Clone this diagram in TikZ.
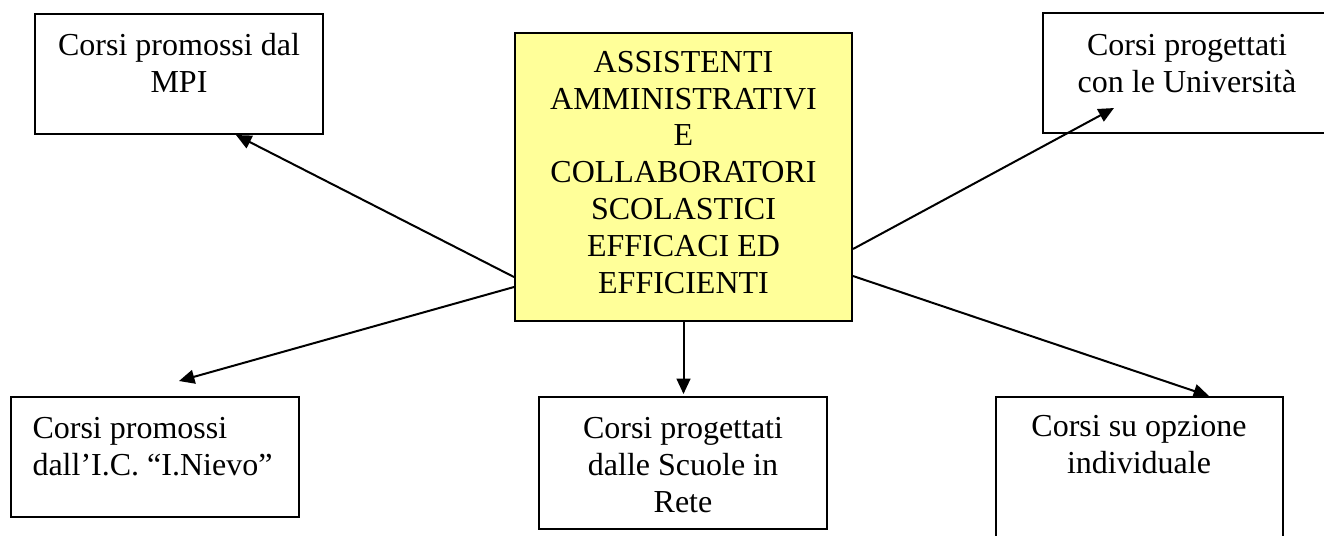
\documentclass[tikz,border=0pt]{standalone}
\usepackage{fontspec}
\setmainfont{Liberation Serif}
\usetikzlibrary{arrows.meta,calc,fit}
\definecolor{paleyellow}{RGB}{255,255,153}
\tikzset{
  box/.style={draw=black, line width=0.75pt, inner sep=0pt},
  txt/.style={inner sep=0pt, align=center, font=\fontsize{12}{13.8}\selectfont},
  arr/.style={line width=0.75pt, -{Triangle[length=5.8pt,width=5.2pt]}}
}
\begin{document}
\begin{tikzpicture}[x=0.375pt,y=-0.375pt]
  \useasboundingbox (0,0) rectangle (1324,535);
  \clip (0,0) rectangle (1324,535);

  % central box (text placed by the baseline of its last line)
  \node[box, fill=paleyellow, fit={(515,33) (852,321)}] (ctr) {};
  \node[txt, anchor=base] (ctrt) at (683.5,293)
    {ASSISTENTI\\AMMINISTRATIVI\\E\\COLLABORATORI\\SCOLASTICI\\EFFICACI ED\\EFFICIENTI};

  % surrounding boxes
  \node[box, fit={(35,14) (323,134)}] (mpi) {};
  \node[txt, anchor=base] (mpit) at (179,92) {Corsi promossi dal\\MPI};

  \node[box, fit={(1043,13) (1331,133)}] (uni) {};
  \node[txt, anchor=base] (unit) at (1187,92) {Corsi progettati\\con le Università};

  \node[box, fit={(11,397) (299,517)}] (ic) {};
  \node[txt, align=left, anchor=base west] (ict) at (32,475) {Corsi promossi\\dall’I.C. “I.Nievo”};

  \node[box, fit={(539,397) (827,529)}] (rete) {};
  \node[txt, anchor=base] (retet) at (683,512) {Corsi progettati\\dalle Scuole in\\Rete};

  \node[box, fit={(996,397) (1283,560)}] (ind) {};
  \node[txt, anchor=base] (indt) at (1139,473) {Corsi su opzione\\individuale};

  % connectors
  \draw[arr] ($(ctr.south west)+(0,-45)$) -- ($(mpi.south west)+(202,0)$);
  \draw[arr] ($(ctr.south west)+(0,-35)$) -- ($(ic.north west)+(169,-15)$);
  \draw[arr] ($(ctr.south east)+(0,-73)$) -- ($(uni.south west)+(72,-26)$);
  \draw[arr] ($(ctr.south east)+(0,-46)$) -- ($(ind.north west)+(214,0)$);
  \draw[arr] (ctr.south) -- ($(ctr.south)+(0,72)$);
\end{tikzpicture}
\end{document}
